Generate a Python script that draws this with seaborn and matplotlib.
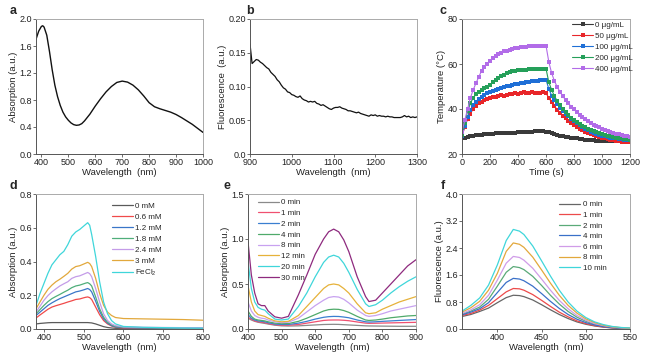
import numpy as np
import pandas as pd
import matplotlib
matplotlib.use('Agg')
import matplotlib.pyplot as plt
import seaborn as sns

# ---- panel a: absorption spectrum
a_wl = [380, 390, 400, 405, 410, 420, 430, 440, 450, 460, 470, 480, 490, 500, 510, 520, 530, 540, 550, 560,
        580, 600, 620, 640, 660, 680, 700, 720, 740, 760, 780, 800, 820, 840, 860, 880, 900, 920, 940, 960, 980, 1000]
a_abs = [1.70, 1.82, 1.89, 1.90, 1.88, 1.76, 1.52, 1.25, 1.02, 0.85, 0.72, 0.62, 0.55, 0.50, 0.46, 0.435, 0.425, 0.43, 0.45, 0.49,
         0.59, 0.71, 0.82, 0.92, 1.00, 1.06, 1.08, 1.065, 1.02, 0.95, 0.86, 0.76, 0.70, 0.67, 0.645, 0.62, 0.585, 0.54, 0.49, 0.44, 0.38, 0.32]

# ---- panel b: NIR fluorescence
b_wl = list(range(900, 1301, 5))
b_fl = [0.163, 0.134, 0.137, 0.140, 0.139, 0.136, 0.134, 0.131, 0.128, 0.126,
        0.121, 0.118, 0.115, 0.110, 0.107, 0.102, 0.098, 0.096, 0.092, 0.091,
        0.088, 0.087, 0.085, 0.084, 0.086, 0.082, 0.080, 0.079, 0.077, 0.078,
        0.077, 0.078, 0.075, 0.074, 0.072, 0.073, 0.071, 0.069, 0.067, 0.066,
        0.068, 0.069, 0.069, 0.070, 0.068, 0.067, 0.066, 0.064, 0.064, 0.063,
        0.062, 0.061, 0.062, 0.060, 0.059, 0.058, 0.057, 0.056, 0.058, 0.057,
        0.058, 0.056, 0.057, 0.056, 0.056, 0.055, 0.056, 0.055, 0.055, 0.054,
        0.054, 0.054, 0.054, 0.055, 0.057, 0.055, 0.056, 0.054, 0.055, 0.054, 0.055]

# ---- panel c: photothermal heating / cooling
c_time = list(range(0, 1201, 20))
c_labels = ['0 μg/mL', '50 μg/mL', '100 μg/mL', '200 μg/mL', '400 μg/mL']
c_0 = [27.0, 27.3, 27.6, 27.9, 28.1, 28.3, 28.5, 28.6, 28.8, 28.9, 29.0, 29.1, 29.2, 29.2, 29.3,
       29.3, 29.4, 29.4, 29.5, 29.5, 29.6, 29.7, 29.8, 29.9, 30.0, 30.0, 30.1, 30.1, 30.2, 30.1, 30.0,
       29.6, 29.2, 28.8, 28.5, 28.2, 27.9, 27.7, 27.5, 27.3, 27.1, 26.9, 26.7, 26.6, 26.4, 26.3,
       26.2, 26.1, 26.0, 25.9, 25.9, 25.8, 25.8, 25.7, 25.7, 25.6, 25.6, 25.6, 25.5, 25.5, 25.5]
c_50 = [28.0, 32.0, 35.5, 38.0, 40.0, 41.5, 42.5, 43.3, 44.0, 44.6, 45.0, 45.5, 45.3, 46.0, 46.2,
        45.8, 46.4, 46.8, 46.5, 47.2, 46.7, 47.0, 47.4, 46.9, 47.2, 47.5, 47.0, 47.3, 47.1, 47.4, 47.0,
        45.0, 43.0, 41.3, 39.7, 38.3, 37.0, 35.8, 34.7, 33.7, 32.8, 32.0, 31.2, 30.5, 29.9, 29.3,
        28.8, 28.3, 27.9, 27.5, 27.2, 26.9, 26.6, 26.3, 26.1, 25.9, 25.7, 25.5, 25.4, 25.3, 25.2]
c_100 = [28.0, 32.5, 36.5, 39.5, 41.7, 43.3, 44.5, 45.4, 46.2, 47.0, 47.6, 48.1, 48.6, 49.0, 49.4,
         49.8, 50.1, 50.4, 50.7, 51.0, 51.3, 51.5, 51.7, 51.9, 52.1, 52.3, 52.5, 52.6, 52.8, 52.9, 53.0,
         49.0, 46.0, 44.0, 42.2, 40.6, 39.2, 37.9, 36.7, 35.6, 34.6, 33.6, 32.7, 31.9, 31.2, 30.6,
         30.0, 29.5, 29.0, 28.6, 28.2, 27.9, 27.6, 27.3, 27.1, 26.9, 26.7, 26.5, 26.3, 26.2, 26.1]
c_200 = [28.5, 34.0, 39.0, 42.5, 45.0, 46.5, 47.6, 48.5, 49.3, 50.0, 50.8, 51.8, 52.8, 53.8, 54.6,
         55.3, 55.9, 56.4, 56.8, 57.1, 57.3, 57.4, 57.5, 57.5, 57.6, 57.6, 57.7, 57.7, 57.8, 57.8, 57.9,
         52.0, 48.5, 45.8, 43.6, 41.7, 40.1, 38.7, 37.4, 36.2, 35.1, 34.1, 33.3, 32.6, 31.9, 31.3,
         30.7, 30.1, 29.6, 29.2, 28.8, 28.4, 28.1, 27.8, 27.5, 27.3, 27.1, 26.9, 26.7, 26.5, 26.4]
c_400 = [30.0, 35.0, 40.0, 45.0, 48.5, 51.5, 54.3, 57.0, 58.8, 60.2, 61.4, 62.5, 63.6, 64.5, 65.1,
         65.6, 66.0, 66.4, 66.7, 67.0, 67.2, 67.4, 67.5, 67.7, 67.8, 67.9, 68.0, 68.1, 68.1, 68.2, 68.2,
         61.0, 56.0, 52.5, 49.8, 47.6, 45.7, 44.0, 42.5, 41.1, 39.8, 38.6, 37.5, 36.5, 35.5, 34.6,
         33.8, 33.1, 32.4, 31.8, 31.2, 30.7, 30.2, 29.8, 29.4, 29.0, 28.7, 28.4, 28.1, 27.8, 27.6]
c_colors = ['#3a3a3a', '#e8262a', '#1f6fd6', '#25a05a', '#b26ce8']

# ---- panel d: absorption vs Fe concentration
d_wl = [380, 390, 400, 410, 420, 430, 440, 450, 460, 470, 480, 490, 500, 505, 510, 515, 520, 530, 540, 550,
        560, 570, 580, 600, 650, 700, 750, 800]
d_labels = ['0 mM', '0.6 mM', '1.2 mM', '1.8 mM', '2.4 mM', '3 mM', 'FeCl$_2$']
d_0 = [0.030, 0.033, 0.035, 0.037, 0.038, 0.038, 0.038, 0.038, 0.038, 0.038, 0.038, 0.038, 0.038, 0.038, 0.038, 0.037, 0.036, 0.030, 0.022, 0.014,
       0.009, 0.006, 0.004, 0.003, 0.002, 0.002, 0.002, 0.002]
d_06 = [0.065, 0.083, 0.100, 0.117, 0.130, 0.138, 0.145, 0.152, 0.160, 0.167, 0.175, 0.178, 0.185, 0.188, 0.190, 0.186, 0.175, 0.130, 0.085, 0.050,
        0.030, 0.018, 0.010, 0.006, 0.005, 0.004, 0.004, 0.004]
d_12 = [0.080, 0.100, 0.120, 0.140, 0.155, 0.168, 0.180, 0.190, 0.200, 0.210, 0.220, 0.225, 0.232, 0.236, 0.240, 0.234, 0.220, 0.165, 0.105, 0.060,
        0.035, 0.020, 0.012, 0.008, 0.006, 0.005, 0.005, 0.005]
d_18 = [0.090, 0.115, 0.140, 0.162, 0.180, 0.193, 0.205, 0.218, 0.230, 0.245, 0.255, 0.260, 0.268, 0.272, 0.275, 0.268, 0.255, 0.190, 0.120, 0.070,
        0.040, 0.025, 0.015, 0.010, 0.008, 0.007, 0.006, 0.006]
d_24 = [0.100, 0.135, 0.170, 0.198, 0.220, 0.238, 0.255, 0.268, 0.280, 0.300, 0.310, 0.315, 0.325, 0.330, 0.335, 0.328, 0.310, 0.240, 0.160, 0.090,
        0.050, 0.030, 0.020, 0.012, 0.010, 0.009, 0.008, 0.008]
d_3 = [0.120, 0.160, 0.200, 0.235, 0.260, 0.280, 0.295, 0.312, 0.330, 0.355, 0.370, 0.375, 0.385, 0.390, 0.395, 0.388, 0.370, 0.300, 0.210, 0.140,
       0.100, 0.080, 0.068, 0.062, 0.060, 0.058, 0.056, 0.052]
d_fe = [0.140, 0.210, 0.270, 0.330, 0.380, 0.410, 0.440, 0.460, 0.500, 0.550, 0.575, 0.590, 0.610, 0.620, 0.630, 0.615, 0.560, 0.430, 0.280, 0.160,
        0.090, 0.050, 0.030, 0.015, 0.010, 0.008, 0.006, 0.005]
d_colors = ['#5a5a5a', '#f04a4a', '#3a76c8', '#4fae7a', '#c49ce8', '#e2a83c', '#3fd6da']

# ---- panel e: absorption vs time
e_wl = [400, 410, 420, 430, 440, 450, 460, 480, 500, 520, 550, 575, 600, 625, 640, 655, 670, 685, 700, 725, 750, 760,
        780, 800, 825, 850, 875, 900]
e_labels = ['0 min', '1 min', '2 min', '4 min', '8 min', '12 min', '20 min', '30 min']
e_0 = [0.12, 0.10, 0.085, 0.075, 0.068, 0.062, 0.055, 0.042, 0.035, 0.033, 0.035, 0.04, 0.045, 0.05, 0.051, 0.052, 0.051, 0.048, 0.045, 0.04, 0.035, 0.034,
       0.033, 0.032, 0.031, 0.03, 0.03, 0.03]
e_1 = [0.13, 0.11, 0.09, 0.08, 0.075, 0.07, 0.06, 0.048, 0.042, 0.042, 0.05, 0.065, 0.08, 0.095, 0.099, 0.10, 0.10, 0.097, 0.092, 0.078, 0.065, 0.063,
       0.064, 0.066, 0.068, 0.07, 0.072, 0.074]
e_2 = [0.16, 0.12, 0.10, 0.09, 0.085, 0.08, 0.07, 0.055, 0.05, 0.05, 0.065, 0.085, 0.11, 0.13, 0.137, 0.14, 0.139, 0.133, 0.125, 0.10, 0.08, 0.077,
       0.08, 0.085, 0.09, 0.095, 0.10, 0.105]
e_4 = [0.20, 0.14, 0.11, 0.10, 0.095, 0.09, 0.08, 0.065, 0.06, 0.06, 0.085, 0.12, 0.16, 0.20, 0.215, 0.22, 0.218, 0.205, 0.185, 0.14, 0.10, 0.095,
       0.10, 0.11, 0.125, 0.135, 0.145, 0.15]
e_8 = [0.30, 0.20, 0.15, 0.13, 0.12, 0.115, 0.10, 0.08, 0.07, 0.075, 0.12, 0.19, 0.26, 0.32, 0.35, 0.36, 0.355, 0.33, 0.29, 0.21, 0.15, 0.14,
       0.15, 0.17, 0.20, 0.22, 0.24, 0.26]
e_12 = [0.48, 0.30, 0.20, 0.16, 0.15, 0.14, 0.12, 0.09, 0.08, 0.085, 0.15, 0.25, 0.35, 0.45, 0.49, 0.50, 0.49, 0.45, 0.40, 0.28, 0.18, 0.17,
        0.18, 0.22, 0.26, 0.30, 0.33, 0.36]
e_20 = [0.75, 0.45, 0.30, 0.24, 0.22, 0.21, 0.17, 0.11, 0.10, 0.11, 0.25, 0.40, 0.58, 0.74, 0.80, 0.82, 0.80, 0.73, 0.63, 0.44, 0.28, 0.25,
        0.27, 0.32, 0.40, 0.47, 0.53, 0.58]
e_30 = [0.97, 0.60, 0.40, 0.28, 0.26, 0.26, 0.20, 0.135, 0.12, 0.14, 0.38, 0.60, 0.83, 1.00, 1.08, 1.11, 1.08, 0.99, 0.86, 0.58, 0.36, 0.305,
        0.32, 0.40, 0.50, 0.60, 0.70, 0.77]
e_colors = ['#8a8a8a', '#f05070', '#3a7fd0', '#4faa6a', '#c8a2f0', '#e6b23a', '#3fd6da', '#8e2a7e']

# ---- panel f: fluorescence vs time
f_wl = [360, 370, 380, 390, 400, 410, 418, 425, 430, 440, 450, 460, 470, 480, 490, 500, 510, 520, 530, 540, 550]
f_labels = ['0 min', '1 min', '2 min', '4 min', '6 min', '8 min', '10 min']
f_0 = [0.37, 0.43, 0.52, 0.62, 0.78, 0.93, 1.00, 0.99, 0.96, 0.86, 0.72, 0.57, 0.43, 0.31, 0.21, 0.14, 0.09, 0.055, 0.03, 0.018, 0.01]
f_1 = [0.40, 0.46, 0.56, 0.70, 0.90, 1.10, 1.20, 1.19, 1.15, 1.02, 0.85, 0.67, 0.50, 0.36, 0.24, 0.16, 0.10, 0.06, 0.035, 0.02, 0.012]
f_2 = [0.44, 0.53, 0.65, 0.88, 1.27, 1.68, 1.85, 1.82, 1.76, 1.56, 1.29, 1.00, 0.74, 0.52, 0.35, 0.23, 0.14, 0.085, 0.05, 0.03, 0.018]
f_4 = [0.42, 0.50, 0.60, 0.78, 1.08, 1.38, 1.50, 1.48, 1.43, 1.27, 1.05, 0.82, 0.61, 0.43, 0.29, 0.19, 0.12, 0.07, 0.04, 0.025, 0.015]
f_6 = [0.46, 0.57, 0.72, 1.00, 1.45, 1.95, 2.15, 2.12, 2.04, 1.80, 1.48, 1.15, 0.85, 0.60, 0.40, 0.26, 0.16, 0.10, 0.06, 0.035, 0.02]
f_8 = [0.50, 0.63, 0.82, 1.15, 1.65, 2.30, 2.55, 2.51, 2.42, 2.13, 1.75, 1.36, 1.00, 0.70, 0.47, 0.30, 0.19, 0.11, 0.065, 0.04, 0.025]
f_10 = [0.53, 0.70, 0.92, 1.30, 1.90, 2.62, 2.95, 2.90, 2.80, 2.46, 2.02, 1.57, 1.15, 0.80, 0.53, 0.34, 0.21, 0.13, 0.075, 0.045, 0.03]
f_colors = ['#666666', '#ec4a4a', '#5aaa78', '#3a70c8', '#d09ce8', '#e2a83c', '#3fd6da']


def long_df(x, series, labels, xname='x', yname='y'):
    frames = [pd.DataFrame({xname: x, yname: s, 'group': lab}) for s, lab in zip(series, labels)]
    return pd.concat(frames, ignore_index=True)


sns.set_style('ticks')
plt.rcParams['font.family'] = ['Liberation Sans', 'DejaVu Sans']
plt.rcParams['mathtext.default'] = 'regular'
plt.rcParams['font.size'] = 6.5

fig = plt.figure(figsize=(6.5, 3.55), dpi=100)
W, H = 650, 355


def px_axes(l, t, r, b):
    return fig.add_axes([l / W, 1 - b / H, (r - l) / W, (b - t) / H])


def style(ax, xlabel, ylabel):
    for side in ['left', 'bottom']:
        ax.spines[side].set_color('#555555')
        ax.spines[side].set_linewidth(0.7)
    for side in ['top', 'right']:
        ax.spines[side].set_visible(True)
        ax.spines[side].set_color('#aaaaaa')
        ax.spines[side].set_linewidth(0.7)
    ax.tick_params(direction='out', length=2, width=0.6, colors='#555555', labelcolor='#222222',
                   labelsize=6.5, pad=1)
    ax.set_xlabel(xlabel, fontsize=6.8, labelpad=0.5, color='#222222')
    ax.set_ylabel(ylabel, fontsize=6.8, labelpad=1, color='#222222')


def add_legend(ax, labels, anchor, spacing=0.4):
    ax.legend(ax.lines[:len(labels)], labels, loc='upper left', bbox_to_anchor=anchor, frameon=False,
              fontsize=5.8, handlelength=2.6, handletextpad=0.3, labelspacing=spacing, borderaxespad=0,
              borderpad=0)


# a
ax = px_axes(36, 19, 203, 154)
sns.lineplot(x=a_wl, y=a_abs, color='#111111', lw=1.0, ax=ax)
ax.set_xlim(380, 1000)
ax.set_ylim(0, 2.0)
ax.set_xticks([400, 500, 600, 700, 800, 900, 1000])
ax.set_yticks([0.0, 0.4, 0.8, 1.2, 1.6, 2.0])
ax.yaxis.set_major_formatter(matplotlib.ticker.FormatStrFormatter('%.1f'))
style(ax, 'Wavelength  (nm)', 'Absorption (a.u.)')

# b
ax = px_axes(250, 19, 417, 154)
sns.lineplot(x=b_wl, y=b_fl, color='#111111', lw=0.9, ax=ax)
ax.set_xlim(900, 1300)
ax.set_ylim(0, 0.20)
ax.set_xticks([900, 1000, 1100, 1200, 1300])
ax.set_yticks([0.0, 0.05, 0.10, 0.15, 0.20])
ax.set_yticklabels(['0.0', '0.05', '0.10', '0.15', '0.20'])
style(ax, 'Wavelength  (nm)', 'Fluorescence  (a.u.)')

# c
ax = px_axes(462, 19, 630, 154)
dfc = long_df(c_time, [c_0, c_50, c_100, c_200, c_400], c_labels)
sns.lineplot(data=dfc, x='x', y='y', hue='group', palette=c_colors, hue_order=c_labels, marker='s',
             markersize=2.8, markeredgewidth=0, lw=0.8, errorbar=None, legend=False, ax=ax)
ax.set_xlim(0, 1200)
ax.set_ylim(20, 80)
ax.set_xticks([0, 200, 400, 600, 800, 1000, 1200])
ax.set_yticks([20, 40, 60, 80])
style(ax, 'Time (s)', 'Temperature (°C)')
add_legend(ax, c_labels, (0.655, 0.985), spacing=0.42)

# d
ax = px_axes(36, 194, 203, 329)
dfd = long_df(d_wl, [d_0, d_06, d_12, d_18, d_24, d_3, d_fe], d_labels)
sns.lineplot(data=dfd, x='x', y='y', hue='group', palette=d_colors, hue_order=d_labels, lw=0.9,
             errorbar=None, legend=False, ax=ax)
ax.set_xlim(380, 800)
ax.set_ylim(0, 0.8)
ax.set_xticks([400, 500, 600, 700, 800])
ax.set_yticks([0.0, 0.2, 0.4, 0.6, 0.8])
ax.yaxis.set_major_formatter(matplotlib.ticker.FormatStrFormatter('%.1f'))
style(ax, 'Wavelength  (nm)', 'Absorption (a.u.)')
add_legend(ax, d_labels, (0.455, 0.94), spacing=0.42)

# e
ax = px_axes(248, 194, 416, 329)
dfe = long_df(e_wl, [e_0, e_1, e_2, e_4, e_8, e_12, e_20, e_30], e_labels)
sns.lineplot(data=dfe, x='x', y='y', hue='group', palette=e_colors, hue_order=e_labels, lw=0.9,
             errorbar=None, legend=False, ax=ax)
ax.set_xlim(400, 900)
ax.set_ylim(0, 1.5)
ax.set_xticks([400, 500, 600, 700, 800, 900])
ax.set_yticks([0.0, 0.5, 1.0, 1.5])
ax.yaxis.set_major_formatter(matplotlib.ticker.FormatStrFormatter('%.1f'))
style(ax, 'Wavelength  (nm)', 'Absorption (a.u.)')
add_legend(ax, e_labels, (0.06, 0.965), spacing=0.39)

# f
ax = px_axes(462, 194, 630, 329)
dff = long_df(f_wl, [f_0, f_1, f_2, f_4, f_6, f_8, f_10], f_labels)
sns.lineplot(data=dff, x='x', y='y', hue='group', palette=f_colors, hue_order=f_labels, lw=0.9,
             errorbar=None, legend=False, ax=ax)
ax.set_xlim(360, 550)
ax.set_ylim(0, 4.0)
ax.set_xticks([400, 450, 500, 550])
ax.set_yticks([0.0, 0.8, 1.6, 2.4, 3.2, 4.0])
ax.yaxis.set_major_formatter(matplotlib.ticker.FormatStrFormatter('%.1f'))
style(ax, 'Wavelength  (nm)', 'Fluorescence (a.u.)')
add_legend(ax, f_labels, (0.58, 0.95), spacing=0.37)

# panel letters
for lab, x, y in [('a', 10, 11), ('b', 246, 11), ('c', 440, 11),
                  ('d', 9, 186), ('e', 224, 186), ('f', 441, 186)]:
    fig.text(x / W, 1 - y / H, lab, fontsize=9, fontweight='bold', ha='left', va='center')

fig.savefig('out.png', dpi=100)
